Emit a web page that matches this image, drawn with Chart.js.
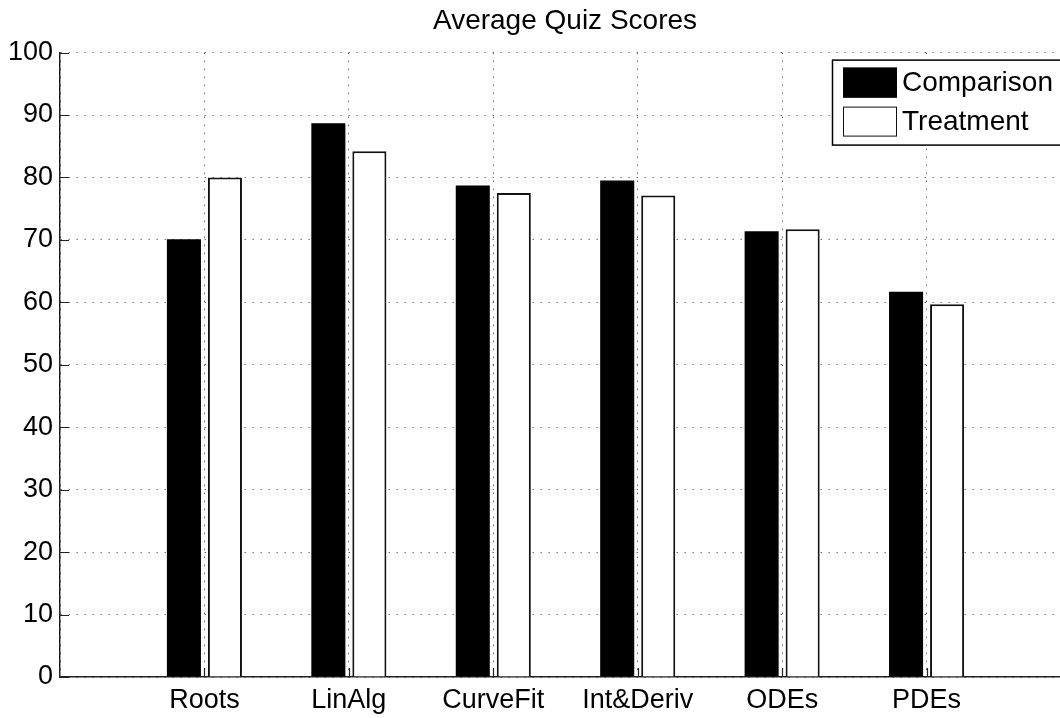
<!DOCTYPE html>
<html>
<head>
<meta charset="utf-8">
<title>Average Quiz Scores</title>
<script src="https://cdn.jsdelivr.net/npm/chart.js@4/dist/chart.umd.min.js"></script>
<style>
    html, body { margin: 0; padding: 0; background: #fff; overflow: hidden; }
    #wrap { width: 1130px; height: 718px; }
</style>
</head>
<body>
<div id="wrap"><canvas id="grafikQuiz"></canvas></div>
<script>
// Data
const categories = ['Roots', 'LinAlg', 'CurveFit', 'Int&Deriv', 'ODEs', 'PDEs'];
const comparison = [70.1, 88.7, 78.7, 79.5, 71.4, 61.7];
const treatment  = [80.0, 84.2, 77.5, 77.1, 71.7, 59.7];
const yTicks = [0, 10, 20, 30, 40, 50, 60, 70, 80, 90, 100];

const FONT = "'Liberation Sans', Arial, Helvetica, sans-serif";

// sumbu x dibuat 0..7 seperti xlim MATLAB, kategori di 1..6
const labels = [''].concat(categories, ['']);
const pad = arr => [null].concat(arr, [null]);

// tick ke dalam ala MATLAB
const innerTicks = {
    id: 'innerTicks',
    afterDraw(chart) {
        const { ctx, chartArea, scales } = chart;
        ctx.save();
        ctx.strokeStyle = '#222';
        ctx.lineWidth = 1.2;
        ctx.beginPath();
        yTicks.forEach(v => {
            const y = Math.round(scales.y.getPixelForValue(v)) + 0.5;
            ctx.moveTo(chartArea.left, y);
            ctx.lineTo(chartArea.left + 9, y);
        });
        categories.forEach((c, i) => {
            const x = Math.round(scales.x.getPixelForValue(i + 1)) + 0.5;
            ctx.moveTo(x, chartArea.bottom);
            ctx.lineTo(x, chartArea.bottom - 9);
        });
        ctx.stroke();
        ctx.restore();
    }
};

// legenda kotak di pojok kanan atas
const boxLegend = {
    id: 'boxLegend',
    afterDraw(chart) {
        const { ctx, chartArea } = chart;
        const left = chartArea.right - 239;
        const top = chartArea.top + 7;
        ctx.save();
        ctx.fillStyle = '#fff';
        ctx.fillRect(left, top, 260, 85);
        ctx.strokeStyle = '#000';
        ctx.lineWidth = 1.5;
        ctx.strokeRect(left + 0.5, top + 0.5, 260, 85);
        ctx.font = '28px ' + FONT;
        ctx.textBaseline = 'middle';
        chart.data.datasets.forEach((ds, i) => {
            const sy = top + 8 + i * 39;
            ctx.fillStyle = ds.backgroundColor;
            ctx.fillRect(left + 11, sy, 54, 30);
            ctx.strokeStyle = ds.borderColor;
            ctx.lineWidth = 1;
            ctx.strokeRect(left + 11.5, sy + 0.5, 53, 29);
            ctx.fillStyle = '#000';
            ctx.fillText(ds.label, left + 70, sy + 16);
        });
        ctx.restore();
    }
};

new Chart(document.getElementById('grafikQuiz'), {
    type: 'bar',
    data: {
        labels: labels,
        datasets: [
            {
                label: 'Comparison',
                data: pad(comparison),
                backgroundColor: '#000',
                borderColor: '#000',
                borderWidth: 0,
                categoryPercentage: 0.568,
                barPercentage: 0.83
            },
            {
                label: 'Treatment',
                data: pad(treatment),
                backgroundColor: '#fff',
                borderColor: '#111',
                borderWidth: 2,
                categoryPercentage: 0.568,
                barPercentage: 0.83
            }
        ]
    },
    options: {
        responsive: true,
        maintainAspectRatio: false,
        animation: false,
        layout: { padding: 0 },
        plugins: {
            legend: { display: false },
            tooltip: { enabled: false },
            title: {
                display: true,
                text: 'Average Quiz Scores',
                color: '#000',
                font: { family: FONT, size: 28, weight: 'normal', lineHeight: 1.2 },
                padding: { top: 4, bottom: 15 }
            }
        },
        scales: {
            x: {
                offset: false,
                grid: { offset: false, color: '#666', lineWidth: 1, drawTicks: false },
                border: { display: true, color: '#222', width: 1.5, dash: [1.5, 6.5] },
                ticks: {
                    color: '#000',
                    padding: 7,
                    maxRotation: 0,
                    autoSkip: false,
                    font: { family: FONT, size: 27 }
                },
                afterFit: s => { s.height = 41; }
            },
            y: {
                min: 0,
                max: 100,
                afterBuildTicks: s => { s.ticks = yTicks.map(v => ({ value: v })); },
                grid: { color: '#777', lineWidth: 1, drawTicks: false },
                border: { display: true, color: '#222', width: 1.5, dash: [1.5, 6.5] },
                ticks: {
                    color: '#000',
                    padding: 7,
                    font: { family: FONT, size: 27 }
                },
                afterFit: s => { s.width = 60; }
            },
            // sumbu kanan kosong: area plot berakhir di luar gambar
            yKanan: {
                position: 'right',
                min: 0,
                max: 100,
                grid: { display: false },
                border: { display: false },
                ticks: { display: false },
                afterFit: s => { s.width = 59; }
            }
        }
    },
    plugins: [innerTicks, boxLegend]
});
</script>
</body>
</html>
